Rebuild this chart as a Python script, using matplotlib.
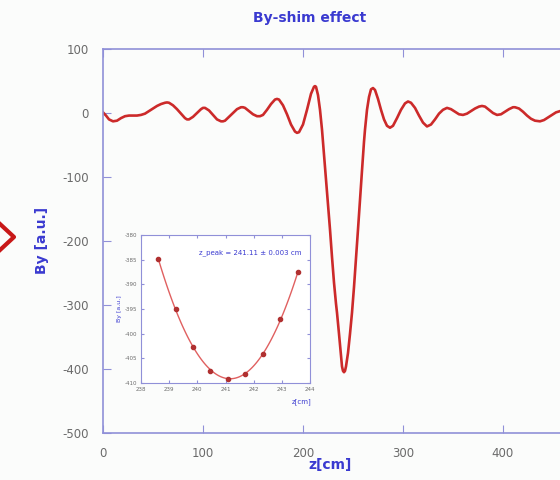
import numpy as np
import matplotlib.pyplot as plt
from matplotlib.lines import Line2D

plt.rcParams['axes.unicode_minus'] = False

# main curve: By along z
z_cm = [0, 3, 6, 10, 14, 18, 22, 26, 30, 34, 38, 42, 46, 50, 54, 58, 62, 64, 66,
        70, 74, 78, 82, 84, 86, 90, 94, 98, 100, 102, 106, 110, 114, 118, 120,
        122, 126, 130, 134, 138, 140, 142, 146, 150, 154, 157, 160, 164, 168,
        172, 174, 176, 180, 184, 188, 192, 194, 196, 200, 204, 208, 211, 212,
        213, 215, 217, 219, 221, 223, 225, 227, 229, 231, 233, 234, 236, 238,
        239, 240, 241, 242, 243, 245, 247, 249, 251, 253, 255, 257, 259, 261,
        262, 264, 266, 268, 270, 272, 275, 278, 281, 284, 287, 290, 294, 298,
        302, 305, 308, 312, 316, 320, 324, 328, 332, 336, 340, 344, 348, 352,
        356, 360, 364, 368, 372, 376, 379, 382, 386, 390, 394, 398, 402, 406,
        410, 412, 416, 420, 424, 428, 432, 437, 441, 445, 449, 453, 457, 462]
by_au = [1, -4, -10, -13, -12, -8, -5, -4, -4, -4, -3, -1, 3, 7, 11, 14, 16, 16.5, 16,
         12, 6, -1, -8, -10, -10, -6, 0, 6, 8, 8, 4, -3, -10, -13, -13,
         -12, -6, 0, 6, 9, 9, 8, 3, -2, -5, -5, -3, 5, 14,
         21, 22, 21, 12, -2, -18, -29, -31, -30, -18, 5, 30, 41, 42,
         41, 28, 5, -26, -65, -105, -145, -182, -225, -265, -298, -312, -345, -380,
         -396, -403, -405, -403, -396, -375, -345, -312, -272, -228, -182, -135, -90, -45,
         -26, 5, 25, 37, 39, 36, 22, 5, -10, -20, -23, -20, -8, 5,
         15, 18, 16, 8, -4, -15, -21, -18, -10, -1, 5, 8, 6, 2,
         -2, -3, -1, 3, 7, 10, 11, 10, 5, 0, -3, -2, 2, 6,
         9, 9, 7, 2, -4, -9, -12, -13, -11, -7, -3, 1, 3, 5]

# inset: points around the peak
z_peak_pts = [238.61, 239.24, 239.86, 240.45, 241.08, 241.69, 242.32, 242.95, 243.58]
by_peak_pts = [-384.9, -395.0, -402.7, -407.5, -409.2, -408.1, -404.1, -397.0, -387.5]

blue = '#3a3ad0'
spine_c = '#9090d8'
red = '#cc2a2a'
grey = '#6a6a6a'

fig = plt.figure(figsize=(5.6, 4.8), dpi=100, facecolor='#fbfcfb')

ax = fig.add_axes([103/560, 47/480, 500/560, 384/480])
ax.set_facecolor('#fbfcfb')
ax.plot(z_cm, by_au, color=red, lw=1.9)
ax.set_xlim(0, 500)
ax.set_ylim(-500, 100)
ax.set_xticks([0, 100, 200, 300, 400])
ax.set_yticks([100, 0, -100, -200, -300, -400, -500])
ax.tick_params(direction='in', length=6, colors=spine_c, labelcolor=grey,
               labelsize=8.5, top=True, right=True, pad=10)
for s in ax.spines.values():
    s.set_color(spine_c)
    s.set_linewidth(1.2)

fig.text(310/560, 1 - 18/480, 'By-shim effect', color=blue, fontsize=10,
         fontweight='bold', ha='center', va='center')
fig.text(330/560, 1 - 465/480, 'z[cm]', color=blue, fontsize=10,
         fontweight='bold', ha='center', va='center')
fig.text(42/560, 1 - 240/480, 'By [a.u.]', color=blue, fontsize=10,
         fontweight='bold', ha='center', va='center', rotation=90)

# red chevron on the left edge of the slide
fig.add_artist(Line2D([0/560, 14/560, 0/560], [1 - 224/480, 1 - 237/480, 1 - 250/480],
                      transform=fig.transFigure, color='#c81818', lw=3))

# inset with parabola fit around the peak
ins = fig.add_axes([141/560, 1 - 383/480, 169/560, 148/480])
ins.set_facecolor('white')
coef = np.polyfit(z_peak_pts, by_peak_pts, 2)
zz = np.linspace(z_peak_pts[0], z_peak_pts[-1], 100)
ins.plot(zz, np.polyval(coef, zz), color='#e06060', lw=1)
ins.plot(z_peak_pts, by_peak_pts, 'o', color='#b03030', ms=3)
ins.set_xlim(238, 244)
ins.set_ylim(-410, -380)
ins.set_xticks([238, 239, 240, 241, 242, 243, 244])
ins.set_yticks([-410, -405, -400, -395, -390, -385, -380])
ins.tick_params(direction='in', length=2, colors=spine_c, labelcolor=grey,
                labelsize=4, top=True, right=True, pad=3)
for s in ins.spines.values():
    s.set_color(spine_c)
ins.text(0.95, 0.88, 'z_peak = 241.11 \u00b1 0.003 cm', transform=ins.transAxes,
         color=blue, fontsize=5, ha='right', va='center')
ins.set_xlabel('z[cm]', color=blue, fontsize=5, labelpad=1)
ins.xaxis.set_label_coords(0.95, -0.1)
ins.set_ylabel('By [a.u.]', color=blue, fontsize=4.5, labelpad=2)

fig.savefig('out.png', dpi=100, facecolor=fig.get_facecolor())
